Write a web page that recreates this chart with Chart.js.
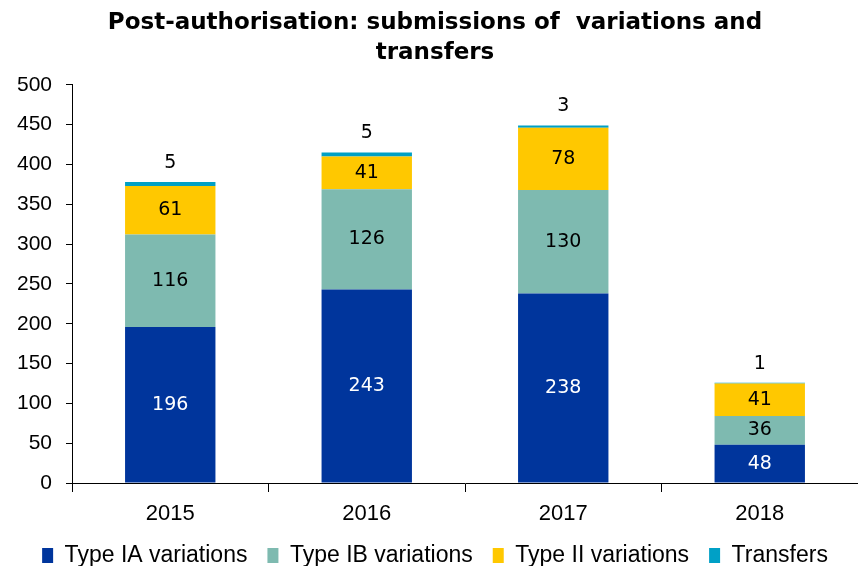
<!DOCTYPE html>
<html>
<head>
<meta charset="utf-8">
<script src="https://cdn.jsdelivr.net/npm/chart.js@4"></script>
<style>
  html, body { margin: 0; padding: 0; background: #fff; }
  #wrap { width: 858px; height: 566px; }
</style>
</head>
<body>
<div id="wrap"><canvas id="bars"></canvas></div>
<script>
const years = ['2015', '2016', '2017', '2018']
const typeIA = [196, 243, 238, 48]
const typeIB = [116, 126, 130, 36]
const typeII = [61, 41, 78, 41]
const transfers = [5, 5, 3, 1]
const yTicks = [0, 50, 100, 150, 200, 250, 300, 350, 400, 450, 500]

// value labels inside the segments, transfers above the bar
const valueLabels = {
  id: 'valueLabels',
  afterDatasetsDraw(chart) {
    const ctx = chart.ctx
    ctx.save()
    ctx.font = '19px "DejaVu Sans"'
    ctx.textAlign = 'center'
    ctx.textBaseline = 'middle'
    chart.data.datasets.forEach((ds, i) => {
      const meta = chart.getDatasetMeta(i)
      meta.data.forEach((bar, j) => {
        const v = ds.data[j]
        let y = (bar.y + bar.base) / 2
        if (i === 3) y = bar.y - 19
        ctx.fillStyle = i === 0 ? '#ffffff' : '#000000'
        ctx.fillText(String(v), bar.x, y)
      })
    })
    ctx.restore()
  }
}

const barConfig = {
  type: 'bar',
  data: {
    labels: years,
    datasets: [
      { label: 'Type IA variations', backgroundColor: '#00359c', data: typeIA },
      { label: 'Type IB variations', backgroundColor: '#7ebab0', data: typeIB },
      { label: 'Type II variations', backgroundColor: '#ffc800', data: typeII },
      { label: 'Transfers', backgroundColor: '#00a0c6', data: transfers },
    ],
  },
  options: {
    responsive: true,
    maintainAspectRatio: false,
    animation: false,
    layout: { padding: { left: 12, right: 0, top: 0, bottom: -11 } },
    datasets: {
      bar: { categoryPercentage: 1, barPercentage: 0.46, borderWidth: 0 }
    },
    plugins: {
      title: {
        display: true,
        text: ['Post-authorisation: submissions of  variations and', 'transfers'],
        color: '#000',
        font: { family: '"DejaVu Sans"', size: 23, weight: 'bold', lineHeight: 1.3 },
        padding: { top: 8, bottom: 17 },
      },
      legend: {
        position: 'bottom',
        labels: {
          color: '#000',
          font: { family: '"Liberation Sans"', size: 23 },
          boxWidth: 11,
          boxHeight: 15,
          padding: 20,
        },
      },
      tooltip: { enabled: false },
    },
    scales: {
      x: {
        stacked: true,
        afterFit(scale) { scale.height = 41 },
        grid: { display: true, drawOnChartArea: false, drawTicks: true, tickLength: 9, color: '#000', offset: true },
        border: { color: '#000', width: 1 },
        ticks: { color: '#000', font: { family: '"Liberation Sans"', size: 22 }, padding: 9 },
      },
      y: {
        stacked: true,
        min: 0,
        max: 500,
        afterBuildTicks(scale) { scale.ticks = yTicks.map(v => ({ value: v })) },
        afterFit(scale) { scale.width = 60 },
        grid: { display: true, drawOnChartArea: false, drawTicks: true, tickLength: 6, color: '#000' },
        border: { color: '#000', width: 1 },
        ticks: { color: '#000', font: { family: '"Liberation Sans"', size: 21 }, padding: 14 },
      },
    },
  },
  plugins: [valueLabels],
}

const barsCtx = document.getElementById('bars')
window.myBar = new Chart(barsCtx, barConfig)
</script>
</body>
</html>
